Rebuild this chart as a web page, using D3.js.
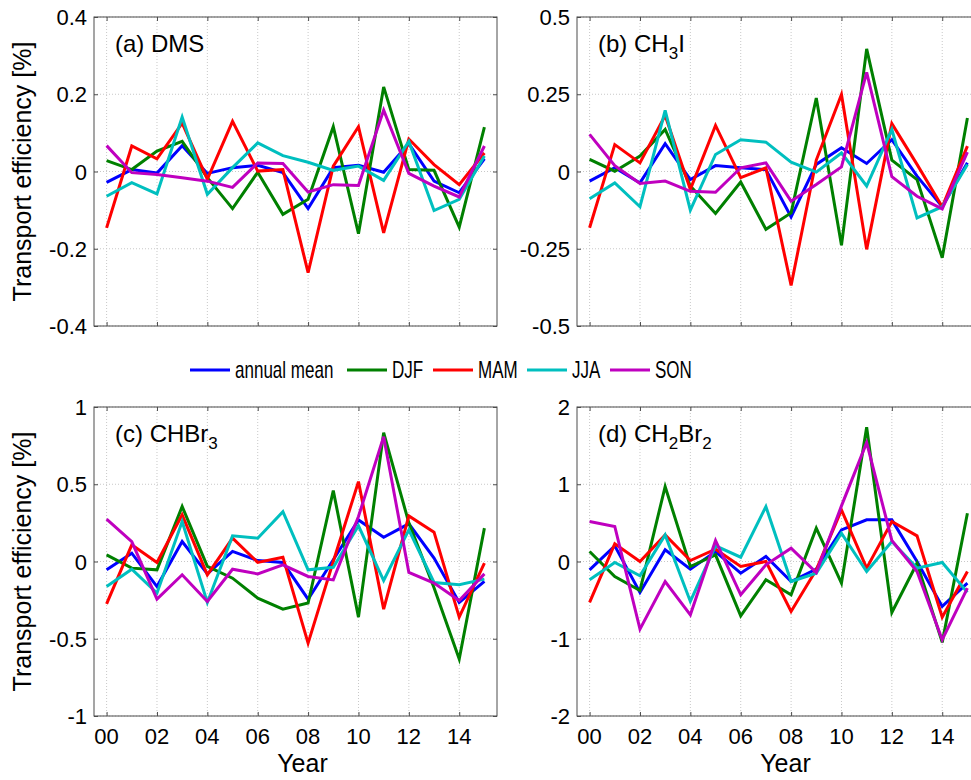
<!DOCTYPE html>
<html lang="en">
<head>
  <meta charset="UTF-8">
  <title>Transport efficiency</title>
  <script src="https://d3js.org/d3.v7.min.js"></script>
  <style>
    body { margin: 0; background: #fff; }
    svg { display: block; font-family: "Liberation Sans", Arial, sans-serif; }
  </style>
</head>
<body>
  <svg width="971" height="780"></svg>

  <script>
    // years 2000..2015, labelled every second year
    const years = d3.range(0, 16);
    const yearTicks = [0, 2, 4, 6, 8, 10, 12, 14];
    const seriesNames = ["annual mean", "DJF", "MAM", "JJA", "SON"];
    const seriesColors = ["#0000ff", "#008000", "#ff0000", "#00bfbf", "#bf00bf"];

    // (a) DMS
    const dmsAnnual = [-0.028, 0.005, -0.004, 0.067, -0.005, 0.01, 0.016, -0.003, -0.096, 0.01, 0.016, -0.002, 0.072, -0.025, -0.055, 0.033];
    const dmsDJF    = [0.028, 0.005, 0.053, 0.078, -0.016, -0.096, -0.002, -0.111, -0.072, 0.116, -0.161, 0.219, 0.005, 0.003, -0.144, 0.115];
    const dmsMAM    = [-0.146, 0.066, 0.033, 0.125, -0.02, 0.13, 0.001, 0.005, -0.262, 0.014, 0.116, -0.159, 0.084, 0.018, -0.034, 0.048];
    const dmsJJA    = [-0.064, -0.029, -0.058, 0.141, -0.059, 0.01, 0.074, 0.041, 0.024, 0.003, 0.014, -0.023, 0.078, -0.101, -0.072, 0.04];
    const dmsSON    = [0.067, -0.003, -0.008, -0.016, -0.025, -0.041, 0.022, 0.021, -0.053, -0.034, -0.036, 0.159, -0.005, -0.038, -0.066, 0.066];

    // (b) CH3I
    const ch3iAnnual = [-0.031, 0.012, -0.037, 0.09, -0.026, 0.019, 0.012, 0.006, -0.147, 0.023, 0.077, 0.026, 0.103, -0.015, -0.114, 0.028];
    const ch3iDJF    = [0.039, 0.001, 0.05, 0.136, -0.047, -0.136, -0.034, -0.187, -0.134, 0.238, -0.239, 0.397, 0.037, -0.026, -0.279, 0.173];
    const ch3iMAM    = [-0.182, 0.087, 0.028, 0.181, -0.058, 0.149, -0.02, 0.012, -0.369, 0.037, 0.249, -0.252, 0.155, 0.023, -0.114, 0.082];
    const ch3iJJA    = [-0.088, -0.037, -0.114, 0.198, -0.125, 0.055, 0.103, 0.095, 0.03, -0.002, 0.06, -0.047, 0.136, -0.15, -0.114, 0.023];
    const ch3iSON    = [0.12, 0.019, -0.039, -0.031, -0.064, -0.067, 0.012, 0.028, -0.096, -0.042, 0.015, 0.321, -0.017, -0.08, -0.121, 0.063];

    // (c) CHBr3
    const chbr3Annual = [-0.054, 0.054, -0.162, 0.129, -0.08, 0.065, 0.006, -0.006, -0.244, 0.011, 0.269, 0.157, 0.244, 0.022, -0.265, -0.129];
    const chbr3DJF    = [0.043, -0.043, -0.054, 0.356, -0.032, -0.108, -0.237, -0.308, -0.269, 0.459, -0.36, 0.834, 0.25, -0.17, -0.631, 0.216];
    const chbr3MAM    = [-0.274, 0.108, -0.006, 0.302, -0.086, 0.151, -0.006, 0.028, -0.528, 0.0, 0.517, -0.308, 0.295, 0.19, -0.36, -0.011];
    const chbr3JJA    = [-0.162, -0.05, -0.205, 0.259, -0.265, 0.166, 0.151, 0.323, -0.054, -0.037, 0.231, -0.123, 0.205, -0.136, -0.151, -0.114];
    const chbr3SON    = [0.274, 0.129, -0.244, -0.086, -0.259, -0.05, -0.08, -0.022, -0.097, -0.119, 0.291, 0.808, -0.071, -0.14, -0.252, -0.08];

    // (d) CH2Br2
    const ch2br2Annual = [-0.108, 0.203, -0.4, 0.151, -0.099, 0.129, -0.151, 0.065, -0.259, -0.099, 0.409, 0.539, 0.539, 0.0, -0.582, -0.28];
    const ch2br2DJF    = [0.129, -0.194, -0.375, 0.97, -0.065, 0.086, -0.703, -0.237, -0.431, 0.431, -0.28, 1.737, -0.66, -0.022, -1.047, 0.625];
    const ch2br2MAM    = [-0.53, 0.228, 0.0, 0.345, 0.013, 0.159, -0.065, 0.0, -0.647, -0.108, 0.668, -0.086, 0.517, 0.332, -0.72, -0.129];
    const ch2br2JJA    = [-0.237, -0.013, -0.185, 0.345, -0.517, 0.203, 0.056, 0.711, -0.259, -0.151, 0.366, -0.129, 0.259, -0.086, -0.013, -0.4];
    const ch2br2SON    = [0.517, 0.453, -0.875, -0.259, -0.69, 0.272, -0.431, -0.043, 0.172, -0.142, 0.72, 1.539, 0.272, -0.129, -1.013, -0.345];

    const panels = [
      { label: "(a) DMS", sub: null, left: 94, top: 17, domain: [-0.4, 0.4], ticks: [-0.4, -0.2, 0, 0.2, 0.4],
        series: [dmsAnnual, dmsDJF, dmsMAM, dmsJJA, dmsSON], yLabel: true, xLabels: false },
      { label: "(b) CH", sub: ["3", "I"], left: 577, top: 17, domain: [-0.5, 0.5], ticks: [-0.5, -0.25, 0, 0.25, 0.5],
        series: [ch3iAnnual, ch3iDJF, ch3iMAM, ch3iJJA, ch3iSON], yLabel: false, xLabels: false },
      { label: "(c) CHBr", sub: ["3"], left: 94, top: 407, domain: [-1, 1], ticks: [-1, -0.5, 0, 0.5, 1],
        series: [chbr3Annual, chbr3DJF, chbr3MAM, chbr3JJA, chbr3SON], yLabel: true, xLabels: true },
      { label: "(d) CH", sub: ["2", "Br", "2"], left: 577, top: 407, domain: [-2, 2], ticks: [-2, -1, 0, 1, 2],
        series: [ch2br2Annual, ch2br2DJF, ch2br2MAM, ch2br2JJA, ch2br2SON], yLabel: false, xLabels: true }
    ];

    const svg = d3.select("svg");
    const pw = 403, ph = 309, tickLen = 4;

    const xScale = d3.scaleLinear().domain([-0.5, 15.5]).range([0, pw]);

    panels.forEach(p => {
      const g = svg.append("g").attr("transform", `translate(${p.left},${p.top})`);
      const yScale = d3.scaleLinear().domain(p.domain).range([ph, 0]);

      // grid
      g.selectAll(".vgrid").data(yearTicks).enter().append("line")
        .attr("x1", d => xScale(d)).attr("x2", d => xScale(d))
        .attr("y1", 0).attr("y2", ph)
        .attr("stroke", "#c8c8c8").attr("stroke-dasharray", "1,2");
      g.selectAll(".hgrid").data(p.ticks).enter().append("line")
        .attr("x1", 0).attr("x2", pw)
        .attr("y1", d => yScale(d)).attr("y2", d => yScale(d))
        .attr("stroke", "#c8c8c8").attr("stroke-dasharray", "1,2");

      // inward ticks on all four sides
      const xb = d3.axisBottom(xScale).tickValues(yearTicks).tickSize(-tickLen).tickFormat("");
      const xt = d3.axisTop(xScale).tickValues(yearTicks).tickSize(-tickLen).tickFormat("");
      const yl = d3.axisLeft(yScale).tickValues(p.ticks).tickSize(-tickLen).tickFormat("");
      const yr = d3.axisRight(yScale).tickValues(p.ticks).tickSize(-tickLen).tickFormat("");
      [[xb, `translate(0,${ph})`], [xt, "translate(0,0)"], [yl, "translate(0,0)"], [yr, `translate(${pw},0)`]]
        .forEach(([ax, tr]) => {
          const a = g.append("g").attr("transform", tr).call(ax);
          a.select(".domain").remove();
          a.selectAll("line").attr("stroke", "#4d4d4d");
        });

      // lines
      const line = d3.line().x((d, i) => xScale(years[i])).y(d => yScale(d));
      p.series.forEach((s, k) => {
        g.append("path").datum(s)
          .attr("d", line)
          .attr("fill", "none")
          .attr("stroke", seriesColors[k])
          .attr("stroke-width", 3)
          .attr("stroke-linejoin", "miter");
      });

      // box
      g.append("rect").attr("width", pw).attr("height", ph)
        .attr("fill", "none").attr("stroke", "#4d4d4d").attr("stroke-width", 1);

      // y tick labels
      g.selectAll(".ylab").data(p.ticks).enter().append("text")
        .attr("x", -7).attr("y", d => yScale(d) + 8)
        .attr("text-anchor", "end").attr("font-size", 22).attr("fill", "#000")
        .text(d => String(d));

      // x tick labels
      if (p.xLabels) {
        g.selectAll(".xlab").data(yearTicks).enter().append("text")
          .attr("x", d => xScale(d)).attr("y", ph + 28)
          .attr("text-anchor", "middle").attr("font-size", 22).attr("fill", "#000")
          .text(d => d3.format("02d")(d));
        g.append("text").attr("x", pw / 2 + 7).attr("y", ph + 56)
          .attr("text-anchor", "middle").attr("font-size", 25).text("Year");
      }

      if (p.yLabel) {
        g.append("text")
          .attr("transform", `translate(${31 - p.left},${ph / 2}) rotate(-90)`)
          .attr("text-anchor", "middle").attr("font-size", 25)
          .text("Transport efficiency [%]");
      }

      // panel title with subscripts
      const t = g.append("text").attr("x", 21).attr("y", 35).attr("font-size", 24).text(p.label);
      if (p.sub) {
        p.sub.forEach(s => {
          const isNum = /^[0-9]+$/.test(s);
          t.append("tspan")
            .attr("font-size", isNum ? 17 : 24)
            .attr("dy", isNum ? 7 : -7)
            .text(s);
        });
      }
    });

    // legend
    const legendX = [190, 347, 433, 527, 610];
    const legend = svg.append("g").attr("transform", "translate(0,370)");
    legendX.forEach((x, i) => {
      legend.append("line").attr("x1", x).attr("x2", x + 40).attr("y1", 0).attr("y2", 0)
        .attr("stroke", seriesColors[i]).attr("stroke-width", 3);
      legend.append("text")
        .attr("transform", `translate(${x + 45},8) scale(0.74,1)`)
        .attr("font-size", 23).text(seriesNames[i]);
    });
  </script>
</body>
</html>
